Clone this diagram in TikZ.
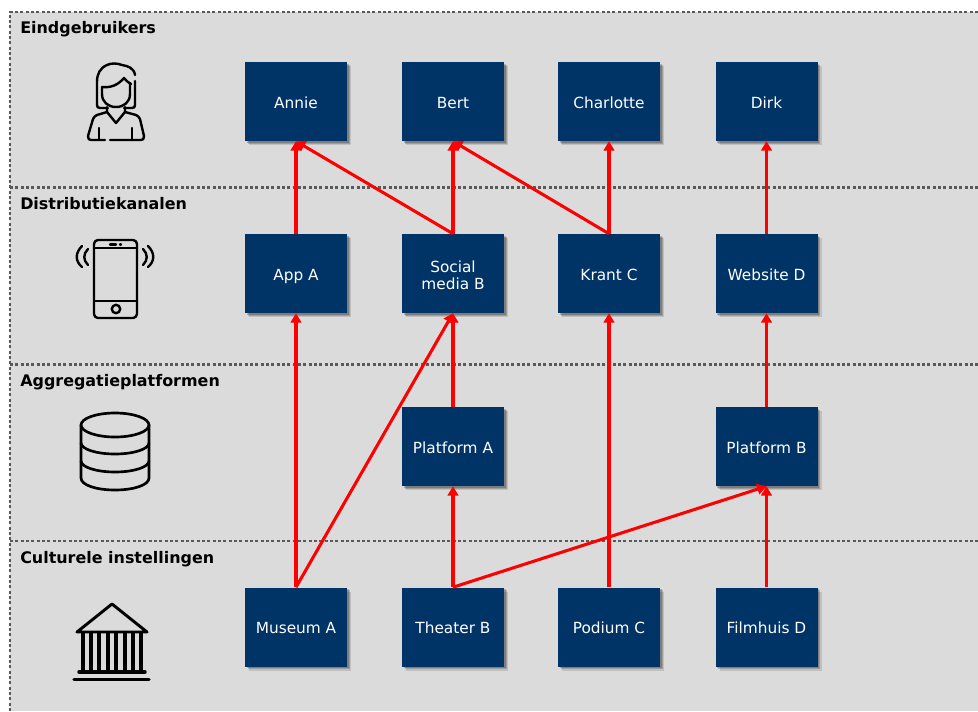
\documentclass[tikz,border=0pt]{standalone}
\usepackage{fontspec}
\setmainfont{DejaVu Sans}
\usepackage{tikz}
\usetikzlibrary{positioning,shadows,arrows.meta}
\definecolor{blokblauw}{RGB}{0,51,102}
\definecolor{laaggrijs}{RGB}{219,219,219}
\tikzset{
blok/.style={fill=blokblauw,text=white,minimum width=76.5pt,minimum height=59.25pt,inner sep=0pt,align=center,text height=10.4pt,text depth=0pt,font=\fontsize{11.5}{13}\selectfont,
  drop shadow={shadow xshift=3pt,shadow yshift=-3pt,fill=black,opacity=0.12},
  drop shadow={shadow xshift=2.2pt,shadow yshift=-2.2pt,fill=black,opacity=0.18},
  drop shadow={shadow xshift=1.4pt,shadow yshift=-1.4pt,fill=black,opacity=0.2}},
laag/.style={anchor=base west,inner sep=0pt,font=\fontsize{11.95}{14}\selectfont\bfseries},
pijl/.style={red,line width=2.3pt,-{Triangle[length=7pt,width=8pt]}},
stippel/.style={draw=black!65,line width=2.2pt,dash pattern=on 2.2pt off 1.8pt},
icoon/.style={black,line width=1.8pt,line cap=round,line join=round}
}

\begin{document}
\begin{tikzpicture}[x=0.75pt,y=-0.75pt]
\useasboundingbox (0,0) rectangle (978,711);
\fill[laaggrijs] (10,12) rectangle (978,711);
\draw[stippel] (10,711)--(10,12)--(978,12);
\draw[stippel] (10,187.5)--(978,187.5);
\draw[stippel] (10,364.5)--(978,364.5);
\draw[stippel] (10,541)--(978,541);
\node[laag] (eind) at (20,33){Eindgebruikers};
\node[laag] (distributie) at (20,209.5){Distributiekanalen};
\node[laag] (aggregatie) at (20,386.5){Aggregatieplatformen};
\node[laag] (cultuur) at (20,563){Culturele instellingen};

% rijen
\node[blok] (annie) at (296,101.5){Annie};
\node[blok] (bert) at (453,101.5){Bert};
\node[blok] (charlotte) at (609,101.5){Charlotte};
\node[blok] (dirk) at (766.5,101.5){Dirk};
\node[blok] (appa) at (296,273.5){App A};
\node[blok,text height=,text depth=] (socialb) at (453,273.5){\rule{0pt}{11.4pt}Social\\media B};
\node[blok] (krantc) at (609,273.5){Krant C};
\node[blok] (websited) at (766.5,273.5){Website D};
\node[blok] (platforma) at (453,446.5){Platform A};
\node[blok] (platformb) at (766.5,446.5){Platform B};
\node[blok] (museuma) at (296,627){Museum A};
\node[blok] (theaterb) at (453,627){Theater B};
\node[blok] (podiumc) at (609,627){Podium C};
\node[blok] (filmhuisd) at (766.5,627){Filmhuis D};

% pijlen
\draw[pijl] (appa.north)--(annie.south);
\draw[pijl] (socialb.north)--(annie.south);
\draw[pijl] (socialb.north)--(bert.south);
\draw[pijl] (krantc.north)--(bert.south);
\draw[pijl] (krantc.north)--(charlotte.south);
\draw[pijl] (websited.north)--(dirk.south);
\draw[pijl] (museuma.north)--(appa.south);
\draw[pijl] (museuma.north)--(socialb.south);
\draw[pijl] (platforma.north)--(socialb.south);
\draw[pijl] (podiumc.north)--(krantc.south);
\draw[pijl] (platformb.north)--(websited.south);
\draw[pijl] (theaterb.north)--(platforma.south);
\draw[pijl] (theaterb.north)--(platformb.south);
\draw[pijl] (filmhuisd.north)--(platformb.south);

% persoon
\draw[icoon] (135,75) .. controls (134,68) and (128,66) .. (122,65) .. controls (117,63) and (111,63) .. (107,65) .. controls (100,68) and (97,74) .. (97,82)--(97,105) .. controls (97,107) and (98,108) .. (100,108)--(108,108);
\draw[icoon] (124,108)--(132,108) .. controls (134,108) and (135,107) .. (135,105)--(135,81);
\draw[icoon] (102,87) .. controls (111,88) and (118,85) .. (124,78) .. controls (126,81) and (128,82) .. (131,84);
\draw[icoon] (102,87)--(102,94) .. controls (102,102) and (108,107) .. (116,107) .. controls (124,107) and (130,102) .. (130,94)--(130,84);
\draw[icoon] (107,107)--(107,112)--(97,115) .. controls (95,116) and (94,117) .. (93,119)--(88,136) .. controls (88,139) and (89,140) .. (91,140)--(105,140);
\draw[icoon] (125,107)--(125,112)--(136,115) .. controls (138,116) and (139,117) .. (140,119)--(144,136) .. controls (144,139) and (143,140) .. (141,140)--(110,140);
\draw[icoon] (107,112)--(116,123)--(125,112);
\draw[icoon] (99,128)--(99,140);
\draw[icoon] (132,128)--(132,140);

% telefoon
\draw[icoon,rounded corners=3pt] (94,240) rectangle (137,318);
\draw[icoon] (94,248)--(137,248);
\draw[icoon] (94,301)--(137,301);
\draw[icoon] (116,309) circle (4.2);
\draw[icoon] (110,244.5)--(116,244.5);
\draw[icoon] (120,244.5)--(121,244.5);
\draw[icoon] (88,249) .. controls (83,254) and (83,260) .. (88,265);
\draw[icoon] (82,246) .. controls (75,253) and (75,261) .. (82,267);
\draw[icoon] (143,249) .. controls (148,254) and (148,260) .. (143,265);
\draw[icoon] (148,246) .. controls (155,253) and (155,261) .. (148,267);

% database
\draw[icoon,line width=2pt] (115,425) ellipse (34 and 12);
\draw[icoon,line width=2pt] (81,425)--(81,478) .. controls (81,485) and (96,490) .. (115,490) .. controls (134,490) and (149,485) .. (149,478)--(149,425);
\draw[icoon,line width=2pt] (81,443) .. controls (81,449) and (96,454) .. (115,454) .. controls (134,454) and (149,449) .. (149,443);
\draw[icoon,line width=2pt] (81,461) .. controls (81,467) and (96,472) .. (115,472) .. controls (134,472) and (149,467) .. (149,461);

% museum
\draw[icoon,line width=2.2pt] (77,632)--(112,604)--(147,632)--cycle;
\foreach \kolom in {0,...,7}
  \draw[black,line width=3pt] (82.5+8.4*\kolom,632)--(82.5+8.4*\kolom,672);
\draw[icoon,line width=2.6pt] (79,672)--(145,672);
\draw[icoon,line width=2.6pt] (74,679.5)--(149,679.5);
\end{tikzpicture}
\end{document}
